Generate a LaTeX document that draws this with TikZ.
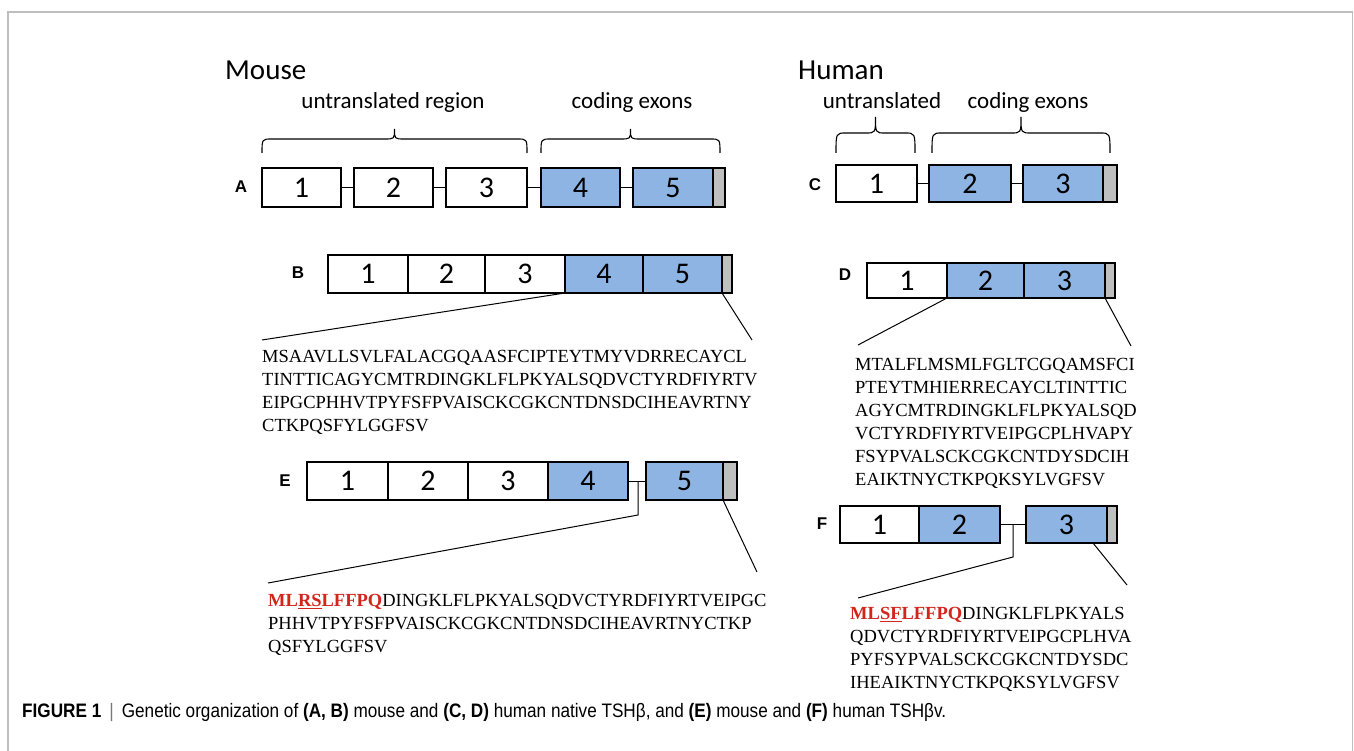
\documentclass[tikz,border=0pt]{standalone}
\usepackage{fontspec}
\setmainfont{Liberation Serif}
\newfontfamily\calfont{Carlito}
\newfontfamily\arialfont{Liberation Sans}
\newfontfamily\capfont[FakeStretch=0.88]{Liberation Sans}
\usetikzlibrary{calc}
\definecolor{exonblue}{RGB}{141,180,226}
\definecolor{tailgray}{RGB}{191,191,191}
\definecolor{sigred}{RGB}{210,38,28}
\definecolor{framegray}{RGB}{190,190,190}
\definecolor{bargray}{RGB}{120,120,120}

% curly brace: x-left, x-right, y of the ends, y of the bar, y of the tip
\newcommand{\curlybr}[5]{%
  \pgfmathsetmacro{\bxc}{(#1+#2)/2}%
  \draw[braceline] (#1,#3) .. controls (#1,#4) .. ({#1+10},#4) -- ({\bxc-10},#4)
    .. controls (\bxc,#4) .. (\bxc,#5) .. controls (\bxc,#4) .. ({\bxc+10},#4)
    -- ({#2-10},#4) .. controls (#2,#4) .. (#2,#3);}

\tikzset{
  exonbase/.style={draw=black, line width=2.6pt, inner sep=0pt, outer sep=0pt,
    anchor=west, font=\calfont\fontsize{30}{30}\selectfont},
  exonw/.style={exonbase, fill=white},
  exonb/.style={exonbase, fill=exonblue},
  tailbox/.style={exonbase, fill=tailgray},
  link/.style={line width=1pt, black},
  braceline/.style={line width=1.1pt, black},
  rowlabel/.style={font=\arialfont\bfseries\fontsize{17}{17}\selectfont, inner sep=0pt},
  species/.style={font=\calfont\fontsize{29}{29}\selectfont, anchor=base west, inner sep=0pt},
  bracelabel/.style={font=\calfont\fontsize{23}{23}\selectfont, anchor=base, inner sep=0pt},
  seq/.style={font=\fontsize{18.5}{23}\selectfont, align=left, anchor=north west, inner sep=0pt},
}
\newcommand{\sigpep}[1]{\textbf{\textcolor{sigred}{#1}}}

\begin{document}
\begin{tikzpicture}[x=1pt, y=-1pt]
\useasboundingbox (0,0) rectangle (1354,751);
\fill[white] (0,0) rectangle (1354,751);
\draw[framegray, line width=1.5pt] (8,751) -- (8,12) -- (1352.5,12) -- (1352.5,751);

% ---------------- Mouse ----------------
\node[species] (mouse) at (225,80) {Mouse};
\node[bracelabel] (mutr) at (393,109) {untranslated region};
\node[bracelabel] (mcod) at (632,109) {coding exons};
\curlybr{262}{527}{153}{139}{129}
\curlybr{541}{720}{153}{139}{129}

% row A: genomic organisation
\node[rowlabel] (lA) at (241,187) {A};
\begin{scope}[every node/.append style={minimum height=39pt}]
\node[exonw, minimum width=79pt] (a1) at (262,187.5) {1};
\node[exonw, minimum width=79pt] (a2) at (354,187.5) {2};
\node[exonw, minimum width=81pt] (a3) at (446,187.5) {3};
\node[exonb, minimum width=79pt] (a4) at (541,187.5) {4};
\node[exonb, minimum width=80pt] (a5) at (633,187.5) {5};
\node[tailbox, minimum width=12pt] (a5t) at (713,187.5) {};
\end{scope}
\draw[link] (a1.east) -- (a2.west);
\draw[link] (a2.east) -- (a3.west);
\draw[link] (a3.east) -- (a4.west);
\draw[link] (a4.east) -- (a5.west);

% row B: native transcript
\node[rowlabel] (lB) at (298,273) {B};
\begin{scope}[every node/.append style={minimum height=38pt}]
\node[exonw, minimum width=80pt] (b1) at (328,274) {1};
\node[exonw, minimum width=77pt] (b2) at (408,274) {2};
\node[exonw, minimum width=80pt] (b3) at (485,274) {3};
\node[exonb, minimum width=78pt] (b4) at (565,274) {4};
\node[exonb, minimum width=79pt] (b5) at (643,274) {5};
\node[tailbox, minimum width=10pt] (b5t) at (722,274) {};
\end{scope}
\coordinate (bL) at (262,340);
\coordinate (bR) at (752,340);
\draw[link] (b4.south west) -- (bL);
\draw[link] (b5t.south west) -- (bR);
\node[seq] (seqB) at (262,350) {MSAAVLLSVLFALACGQAASFCIPTEYTMYVDRRECAYCL\\
TINTTICAGYCMTRDINGKLFLPKYALSQDVCTYRDFIYRTV\\
EIPGCPHHVTPYFSFPVAISCKCGKCNTDNSDCIHEAVRTNY\\
CTKPQSFYLGGFSV};

% row E: variant transcript
\node[rowlabel] (lE) at (285,481) {E};
\begin{scope}[every node/.append style={minimum height=38pt}]
\node[exonw, minimum width=81pt] (e1) at (307,481) {1};
\node[exonw, minimum width=80pt] (e2) at (388,481) {2};
\node[exonw, minimum width=80pt] (e3) at (468,481) {3};
\node[exonb, minimum width=80pt] (e4) at (548,481) {4};
\node[exonb, minimum width=77pt] (e5) at (646,481) {5};
\node[tailbox, minimum width=14pt] (e5t) at (723,481) {};
\end{scope}
\draw[link] (e4.east) -- (e5.west);
\coordinate (eJ) at (638,481);
\coordinate (eK) at (638,515);
\coordinate (eL) at (268,583);
\coordinate (eR) at (757,572);
\draw[link] (eJ) -- (eK) -- (eL);
\draw[link] (e5t.south west) -- (eR);
\node[seq] (seqE) at (268,594) {\sigpep{ML\underline{RS}LFFPQ}DINGKLFLPKYALSQDVCTYRDFIYRTVEIPGC\\
PHHVTPYFSFPVAISCKCGKCNTDNSDCIHEAVRTNYCTKP\\
QSFYLGGFSV};

% ---------------- Human ----------------
\node[species] (human) at (798,80) {Human};
\node[bracelabel] (hutr) at (882,109) {untranslated};
\node[bracelabel] (hcod) at (1028,109) {coding exons};
\curlybr{836}{915}{153}{133}{117}
\curlybr{932}{1110}{153}{133}{117}

% row C: genomic organisation
\node[rowlabel] (lC) at (815,185) {C};
\begin{scope}[every node/.append style={minimum height=37pt}]
\node[exonw, minimum width=81pt] (c1) at (836,183.5) {1};
\node[exonb, minimum width=82pt] (c2) at (929,183.5) {2};
\node[exonb, minimum width=80pt] (c3) at (1023,183.5) {3};
\node[tailbox, minimum width=14pt] (c3t) at (1103,183.5) {};
\end{scope}
\draw[link] (c1.east) -- (c2.west);
\draw[link] (c2.east) -- (c3.west);

% row D: native transcript
\node[rowlabel] (lD) at (845,275) {D};
\begin{scope}[every node/.append style={minimum height=35pt}]
\node[exonw, minimum width=80pt] (d1) at (867,280.5) {1};
\node[exonb, minimum width=77pt] (d2) at (947,280.5) {2};
\node[exonb, minimum width=81pt] (d3) at (1024,280.5) {3};
\node[tailbox, minimum width=10pt] (d3t) at (1105,280.5) {};
\end{scope}
\coordinate (dL) at (858,345);
\coordinate (dR) at (1131,346);
\draw[link] (d2.south west) -- (dL);
\draw[link] (d3t.south west) -- (dR);
\node[seq] (seqD) at (855,358) {MTALFLMSMLFGLTCGQAMSFCI\\
PTEYTMHIERRECAYCLTINTTIC\\
AGYCMTRDINGKLFLPKYALSQD\\
VCTYRDFIYRTVEIPGCPLHVAPY\\
FSYPVALSCKCGKCNTDYSDCIH\\
EAIKTNYCTKPQKSYLVGFSV};

% row F: variant transcript
\node[rowlabel] (lF) at (822,524) {F};
\begin{scope}[every node/.append style={minimum height=37pt}]
\node[exonw, minimum width=79pt] (f1) at (840,524.5) {1};
\node[exonb, minimum width=81pt] (f2) at (919,524.5) {2};
\node[exonb, minimum width=81pt] (f3) at (1026,524.5) {3};
\node[tailbox, minimum width=10pt] (f3t) at (1107,524.5) {};
\end{scope}
\draw[link] (f2.east) -- (f3.west);
\coordinate (fJ) at (1013,524.5);
\coordinate (fK) at (1013,557);
\coordinate (fL) at (858,598);
\coordinate (fS) at (1093,543);
\coordinate (fR) at (1127,585);
\draw[link] (fJ) -- (fK) -- (fL);
\draw[link] (fS) -- (fR);
\node[seq] (seqF) at (850,607) {\sigpep{ML\underline{SF}LFFPQ}DINGKLFLPKYALS\\
QDVCTYRDFIYRTVEIPGCPLHVA\\
PYFSYPVALSCKCGKCNTDYSDC\\
IHEAIKTNYCTKPQKSYLVGFSV};

% ---------------- caption ----------------
\node[font=\capfont\fontsize{19.5}{19.5}\selectfont, anchor=west, inner sep=0pt] (cap) at (22,712)
  {\textbf{FIGURE 1}\, \textcolor{bargray}{|}\, Genetic organization of \textbf{(A, B)} mouse and \textbf{(C, D)} human native TSHβ, and \textbf{(E)} mouse and \textbf{(F)} human TSHβv.};
\end{tikzpicture}
\end{document}
